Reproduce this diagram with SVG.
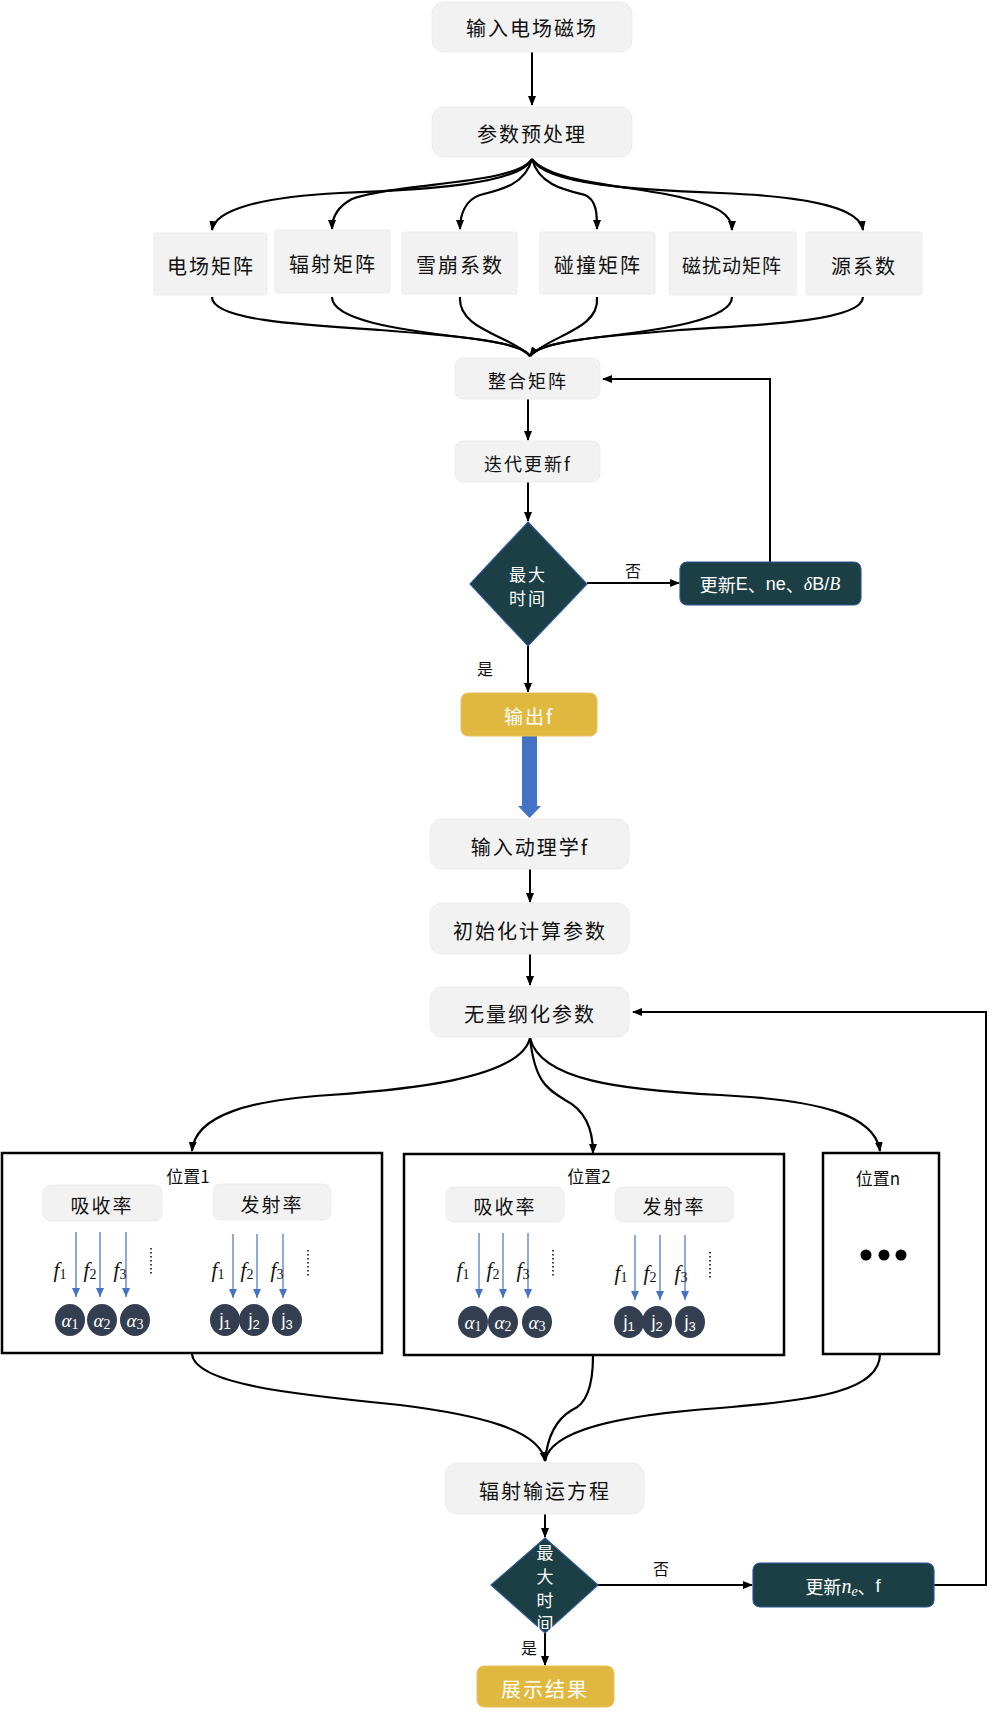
<svg xmlns="http://www.w3.org/2000/svg" width="989" height="1714" viewBox="0 0 989 1714">
<style>
.box{fill:#f2f2f2;stroke:#ececec;stroke-width:1}
.dark{fill:#1b3f44;stroke:#2f5597;stroke-width:1.2}
.gold{fill:#e0b83f;stroke:#e6c25a;stroke-width:1}
.pos{fill:#fff;stroke:#000;stroke-width:2.5}
.t{font-family:"Noto Sans CJK SC","Liberation Sans",sans-serif;fill:#111;text-anchor:middle;dominant-baseline:central}
.w{fill:#fff}
.ln{fill:none;stroke:#000;stroke-width:2}
.cv{fill:none;stroke:#000;stroke-width:2.2}
.bl{fill:none;stroke:#4472c4;stroke-width:1.2}
.m{font-family:"Liberation Serif",serif;font-style:italic;font-size:21px;fill:#111;text-anchor:middle;dominant-baseline:central}
.sub{font-style:normal;font-size:14px}
.circ{fill:#333f50}
.ct{font-family:"Liberation Serif",serif;font-style:italic;font-size:19px;fill:#fff;text-anchor:middle;dominant-baseline:central}
.jt{font-family:"Liberation Sans",sans-serif;font-size:18px;fill:#fff;text-anchor:middle;dominant-baseline:central}
.dot{stroke:#111;stroke-width:1.6;stroke-dasharray:1.6 2.4;fill:none}
</style>
<defs>
<marker id="ah" markerWidth="10" markerHeight="8" refX="9" refY="4" orient="auto" markerUnits="userSpaceOnUse"><path d="M0,0 L10,4 L0,8 Z" fill="#000"/></marker>
<marker id="bh" markerWidth="9" markerHeight="8" refX="9" refY="4" orient="auto" markerUnits="userSpaceOnUse"><path d="M0,0 L9,4 L0,8 Z" fill="#4472c4"/></marker>
</defs>

<g id="connectors">
<line class="ln" x1="532" y1="52" x2="532" y2="105" marker-end="url(#ah)"/>
<path class="cv" d="M532,159 C520,185 420,190 340,193 C260,197 215,210 212,230" marker-end="url(#ah)"/>
<path class="cv" d="M532,159 C515,185 400,182 352,199 C337,207 332,218 332,229" marker-end="url(#ah)"/>
<path class="cv" d="M532,159 C525,185 500,190 480,195 C465,200 460,215 460,229" marker-end="url(#ah)"/>
<path class="cv" d="M532,159 C539,185 565,190 585,195 C597,200 597,215 597,229" marker-end="url(#ah)"/>
<path class="cv" d="M532,159 C550,182 620,185 670,195 C720,205 732,215 732,230" marker-end="url(#ah)"/>
<path class="cv" d="M532,159 C545,185 640,190 720,193 C820,197 860,210 863,230" marker-end="url(#ah)"/>
<path class="cv" d="M212,297 C212,320 300,325 380,330 C470,337 520,342 530,356"/>
<path class="cv" d="M332,297 C332,320 400,330 460,337 C500,342 525,347 530,356"/>
<path class="cv" d="M460,297 C458,330 510,335 530,356"/>
<path class="cv" d="M597,297 C600,330 550,335 530,356"/>
<path class="cv" d="M732,297 C732,320 660,330 600,337 C560,342 535,347 530,356"/>
<path class="cv" d="M863,297 C863,320 770,325 680,330 C590,337 540,342 530,356" marker-end="url(#ah)"/>
<line class="ln" x1="528" y1="399" x2="528" y2="440" marker-end="url(#ah)"/>
<line class="ln" x1="528" y1="482" x2="528" y2="521" marker-end="url(#ah)"/>
<line class="ln" x1="587" y1="583" x2="679" y2="583" marker-end="url(#ah)"/>
<polyline class="ln" points="770,562 770,379 603,379" marker-end="url(#ah)"/>
<line class="ln" x1="528" y1="646" x2="528" y2="692" marker-end="url(#ah)"/>
<polygon points="522,736 537,736 537,806 541,806 529.5,818 518,806 522,806" fill="#4472c4"/>
<line class="ln" x1="530" y1="869" x2="530" y2="902" marker-end="url(#ah)"/>
<line class="ln" x1="530" y1="954" x2="530" y2="985" marker-end="url(#ah)"/>
<path class="cv" d="M530,1038 C520,1080 400,1090 330,1095 C250,1100 195,1115 192,1151" marker-end="url(#ah)"/>
<path class="cv" d="M530,1038 C535,1085 550,1090 565,1100 C585,1110 593,1130 593,1153" marker-end="url(#ah)"/>
<path class="cv" d="M530,1038 C540,1080 620,1090 720,1095 C820,1100 875,1115 880,1151" marker-end="url(#ah)"/>
<path class="cv" d="M192,1354 C195,1385 300,1395 400,1405 C480,1415 540,1430 545,1461" marker-end="url(#ah)"/>
<path class="cv" d="M593,1356 C593,1390 585,1405 572,1410 C555,1420 547,1440 545,1461"/>
<path class="cv" d="M880,1354 C880,1390 820,1400 720,1408 C620,1415 550,1430 545,1461"/>
<line class="ln" x1="545" y1="1514" x2="545" y2="1537" marker-end="url(#ah)"/>
<line class="ln" x1="598" y1="1585" x2="752" y2="1585" marker-end="url(#ah)"/>
<polyline class="ln" points="934,1585 986,1585 986,1012 633,1012" marker-end="url(#ah)"/>
<line class="ln" x1="545" y1="1633" x2="545" y2="1665" marker-end="url(#ah)"/>
<text class="t" x="633" y="570" font-size="16">否</text>
<text class="t" x="485" y="668" font-size="16">是</text>
<text class="t" x="661" y="1568" font-size="16">否</text>
<text class="t" x="529" y="1647" font-size="16">是</text>
</g>

<g id="n-input"><rect class="box" x="432" y="2" width="200" height="50" rx="12"/><text class="t" x="532" y="27" font-size="20" letter-spacing="2">输入电场磁场</text></g>
<g id="n-pre"><rect class="box" x="432" y="107" width="200" height="50" rx="12"/><text class="t" x="532" y="133" font-size="20" letter-spacing="2">参数预处理</text></g>
<g id="n-e"><rect class="box" x="154" y="233" width="113" height="62" rx="2"/><text class="t" x="211" y="265" font-size="20" letter-spacing="2">电场矩阵</text></g>
<g id="n-rad"><rect class="box" x="275" y="230" width="115" height="63" rx="2"/><text class="t" x="333" y="263" font-size="20" letter-spacing="2">辐射矩阵</text></g>
<g id="n-aval"><rect class="box" x="402" y="232" width="115" height="62" rx="2"/><text class="t" x="460" y="264" font-size="20" letter-spacing="2">雪崩系数</text></g>
<g id="n-coll"><rect class="box" x="540" y="232" width="115" height="62" rx="2"/><text class="t" x="598" y="264" font-size="20" letter-spacing="2">碰撞矩阵</text></g>
<g id="n-mag"><rect class="box" x="669" y="232" width="127" height="63" rx="2"/><text class="t" x="732" y="264" font-size="19" letter-spacing="1">磁扰动矩阵</text></g>
<g id="n-src"><rect class="box" x="806" y="232" width="116" height="63" rx="2"/><text class="t" x="864" y="265" font-size="20" letter-spacing="2">源系数</text></g>
<g id="n-merge"><rect class="box" x="455" y="358" width="145" height="41" rx="8"/><text class="t" x="528" y="380" font-size="18" letter-spacing="2">整合矩阵</text></g>
<g id="n-iter"><rect class="box" x="455" y="441" width="145" height="41" rx="8"/><text class="t" x="528" y="463" font-size="18" letter-spacing="2">迭代更新f</text></g>
<g id="n-dia1"><polygon class="dark" points="528,522 587,584 528,646 470,584"/><text class="t w" x="528" y="573" font-size="17" letter-spacing="2">最大</text><text class="t w" x="528" y="597" font-size="17" letter-spacing="2">时间</text></g>
<g id="n-upd1"><rect class="dark" x="680" y="562" width="181" height="43" rx="7"/><text class="t w" x="770" y="584" font-size="18">更新<tspan font-family="Liberation Sans">E</tspan>、<tspan font-family="Liberation Sans">ne</tspan>、<tspan font-family="Liberation Serif" font-style="italic">δ</tspan><tspan font-family="Liberation Sans">B/</tspan><tspan font-family="Liberation Serif" font-style="italic">B</tspan></text></g>
<g id="n-out"><rect class="gold" x="461" y="693" width="136" height="43" rx="7"/><text class="t w" x="529" y="715" font-size="19" letter-spacing="2">输出f</text></g>
<g id="n-kin"><rect class="box" x="430" y="819" width="199" height="50" rx="12"/><text class="t" x="530" y="846" font-size="20" letter-spacing="2">输入动理学f</text></g>
<g id="n-init"><rect class="box" x="430" y="903" width="199" height="51" rx="12"/><text class="t" x="530" y="930" font-size="20" letter-spacing="2">初始化计算参数</text></g>
<g id="n-nd"><rect class="box" x="430" y="987" width="199" height="50" rx="12"/><text class="t" x="530" y="1013" font-size="20" letter-spacing="2">无量纲化参数</text></g>

<g id="n-pos1">
<rect class="pos" x="2" y="1153" width="380" height="200"/>
<text class="t" x="188" y="1175" font-size="17">位置1</text>
<rect class="box" x="43" y="1185" width="119" height="36" rx="8"/><text class="t" x="102" y="1204" font-size="19" letter-spacing="2">吸收率</text>
<rect class="box" x="213" y="1184" width="118" height="36" rx="8"/><text class="t" x="272" y="1203" font-size="19" letter-spacing="2">发射率</text>
<line class="bl" x1="76" y1="1232" x2="76" y2="1297" marker-end="url(#bh)"/>
<line class="bl" x1="100" y1="1232" x2="100" y2="1297" marker-end="url(#bh)"/>
<line class="bl" x1="126" y1="1232" x2="126" y2="1297" marker-end="url(#bh)"/>
<text class="m" x="60" y="1270">f<tspan class="sub" dy="4">1</tspan></text>
<text class="m" x="90" y="1270">f<tspan class="sub" dy="4">2</tspan></text>
<text class="m" x="120" y="1270">f<tspan class="sub" dy="4">3</tspan></text>
<line class="dot" x1="151" y1="1248" x2="151" y2="1276"/>
<line class="bl" x1="233" y1="1234" x2="233" y2="1298" marker-end="url(#bh)"/>
<line class="bl" x1="257" y1="1234" x2="257" y2="1298" marker-end="url(#bh)"/>
<line class="bl" x1="283" y1="1234" x2="283" y2="1298" marker-end="url(#bh)"/>
<text class="m" x="218" y="1270">f<tspan class="sub" dy="4">1</tspan></text>
<text class="m" x="247" y="1270">f<tspan class="sub" dy="4">2</tspan></text>
<text class="m" x="277" y="1270">f<tspan class="sub" dy="4">3</tspan></text>
<line class="dot" x1="308" y1="1250" x2="308" y2="1278"/>
<ellipse class="circ" cx="70" cy="1320" rx="15" ry="16"/><ellipse class="circ" cx="102" cy="1320" rx="15" ry="16"/><ellipse class="circ" cx="135" cy="1320" rx="15" ry="16"/>
<text class="ct" x="70" y="1320">α<tspan class="sub" dy="4">1</tspan></text>
<text class="ct" x="102" y="1320">α<tspan class="sub" dy="4">2</tspan></text>
<text class="ct" x="135" y="1320">α<tspan class="sub" dy="4">3</tspan></text>
<ellipse class="circ" cx="225" cy="1320" rx="15" ry="16"/><ellipse class="circ" cx="254" cy="1320" rx="15" ry="16"/><ellipse class="circ" cx="287" cy="1320" rx="15" ry="16"/>
<text class="jt" x="225" y="1320">j<tspan font-size="13" dy="4">1</tspan></text>
<text class="jt" x="254" y="1320">j<tspan font-size="13" dy="4">2</tspan></text>
<text class="jt" x="287" y="1320">j<tspan font-size="13" dy="4">3</tspan></text>
</g>

<g id="n-pos2">
<rect class="pos" x="404" y="1154" width="380" height="201"/>
<text class="t" x="589" y="1175" font-size="17">位置2</text>
<rect class="box" x="446" y="1187" width="118" height="35" rx="8"/><text class="t" x="505" y="1205" font-size="19" letter-spacing="2">吸收率</text>
<rect class="box" x="615" y="1187" width="118" height="35" rx="8"/><text class="t" x="674" y="1205" font-size="19" letter-spacing="2">发射率</text>
<line class="bl" x1="479" y1="1233" x2="479" y2="1298" marker-end="url(#bh)"/>
<line class="bl" x1="503" y1="1233" x2="503" y2="1298" marker-end="url(#bh)"/>
<line class="bl" x1="528" y1="1233" x2="528" y2="1298" marker-end="url(#bh)"/>
<text class="m" x="463" y="1270">f<tspan class="sub" dy="4">1</tspan></text>
<text class="m" x="493" y="1270">f<tspan class="sub" dy="4">2</tspan></text>
<text class="m" x="523" y="1270">f<tspan class="sub" dy="4">3</tspan></text>
<line class="dot" x1="553" y1="1250" x2="553" y2="1278"/>
<line class="bl" x1="635" y1="1235" x2="635" y2="1300" marker-end="url(#bh)"/>
<line class="bl" x1="660" y1="1235" x2="660" y2="1300" marker-end="url(#bh)"/>
<line class="bl" x1="685" y1="1235" x2="685" y2="1300" marker-end="url(#bh)"/>
<text class="m" x="621" y="1273">f<tspan class="sub" dy="4">1</tspan></text>
<text class="m" x="650" y="1273">f<tspan class="sub" dy="4">2</tspan></text>
<text class="m" x="681" y="1273">f<tspan class="sub" dy="4">3</tspan></text>
<line class="dot" x1="710" y1="1252" x2="710" y2="1280"/>
<ellipse class="circ" cx="473" cy="1322" rx="15" ry="16"/><ellipse class="circ" cx="503" cy="1322" rx="15" ry="16"/><ellipse class="circ" cx="537" cy="1322" rx="15" ry="16"/>
<text class="ct" x="473" y="1322">α<tspan class="sub" dy="4">1</tspan></text>
<text class="ct" x="503" y="1322">α<tspan class="sub" dy="4">2</tspan></text>
<text class="ct" x="537" y="1322">α<tspan class="sub" dy="4">3</tspan></text>
<ellipse class="circ" cx="629" cy="1322" rx="15" ry="16"/><ellipse class="circ" cx="657" cy="1322" rx="15" ry="16"/><ellipse class="circ" cx="690" cy="1322" rx="15" ry="16"/>
<text class="jt" x="629" y="1322">j<tspan font-size="13" dy="4">1</tspan></text>
<text class="jt" x="657" y="1322">j<tspan font-size="13" dy="4">2</tspan></text>
<text class="jt" x="690" y="1322">j<tspan font-size="13" dy="4">3</tspan></text>
</g>

<g id="n-posn">
<rect class="pos" x="823" y="1153" width="116" height="201"/>
<text class="t" x="878" y="1177" font-size="17">位置n</text>
<circle cx="866" cy="1255" r="5.5" fill="#000"/><circle cx="884" cy="1255" r="5.5" fill="#000"/><circle cx="901" cy="1255" r="5.5" fill="#000"/>
</g>

<g id="n-rte"><rect class="box" x="445" y="1463" width="199" height="51" rx="12"/><text class="t" x="545" y="1490" font-size="20" letter-spacing="2">辐射输运方程</text></g>
<g id="n-dia2"><polygon class="dark" points="545,1538 598,1585 545,1633 491,1585"/>
<text class="t w" x="545" y="1551" font-size="17">最</text><text class="t w" x="545" y="1575" font-size="17">大</text><text class="t w" x="545" y="1599" font-size="17">时</text><text class="t w" x="545" y="1622" font-size="17">间</text></g>
<g id="n-upd2"><rect class="dark" x="753" y="1563" width="181" height="44" rx="7"/><text class="t w" x="843" y="1586" font-size="18">更新<tspan font-family="Liberation Serif" font-style="italic" font-size="20">n</tspan><tspan font-family="Liberation Serif" font-style="italic" font-size="14" dy="5">e</tspan><tspan dy="-5">、</tspan><tspan font-family="Liberation Sans">f</tspan></text></g>
<g id="n-show"><rect class="gold" x="477" y="1666" width="137" height="41" rx="7"/><text class="t w" x="545" y="1688" font-size="20" letter-spacing="2">展示结果</text></g>
</svg>
